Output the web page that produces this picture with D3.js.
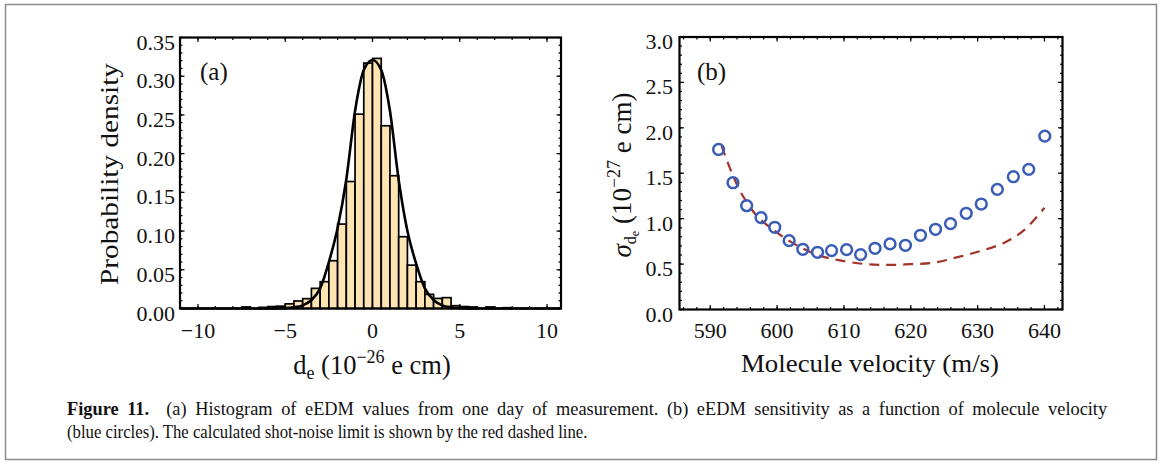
<!DOCTYPE html>
<html><head><meta charset="utf-8">
<script src="https://cdn.jsdelivr.net/npm/d3@7"></script>
<style>
body{margin:0;background:#fff;}
svg{display:block;}
text{font-family:"Liberation Serif","Times New Roman",serif;fill:#111;}
</style></head><body>
<svg id="fig" width="1163" height="468"></svg>
<script>
// ---------- Panel (a): histogram of eEDM values ----------
const binStarts = [-7.5,-6.5,-6,-5.5,-5,-4.5,-4,-3.5,-3,-2.5,-2,-1.5,-1,-0.5,0,0.5,1,1.5,2,2.5,3,3.5,4,4.5,5,5.5,6.5,7.5];
const binDensity = [0.002,0.0015,0.0025,0.003,0.006,0.0097,0.0127,0.026,0.0346,0.0617,0.109,0.164,0.251,0.317,0.323,0.236,0.1715,0.0927,0.056,0.0346,0.0183,0.013,0.014,0.0036,0.0025,0.002,0.002,0.001];
const binWidth = 0.5;
const fitX = [-11,-6,-5,-4.5,-4,-3.5,-3,-2.5,-2,-1.5,-1,-0.5,0,0.5,1,1.5,2,2.5,3,3.5,4,4.5,5,6,10.8];
const fitY = [0,0,0.0005,0.0015,0.004,0.011,0.026,0.06,0.104,0.167,0.255,0.308,0.321,0.308,0.255,0.166,0.1,0.058,0.026,0.011,0.004,0.0015,0.0005,0,0];
const aXTicks = [-10,-5,0,5,10];
const aYTicks = [0,0.05,0.10,0.15,0.20,0.25,0.30,0.35];

// ---------- Panel (b): sensitivity vs velocity ----------
const velocity = [591.25,593.4,595.45,597.6,599.65,601.8,603.85,606.05,608.15,610.4,612.5,614.65,616.9,619.2,621.45,623.7,625.95,628.3,630.55,632.95,635.35,637.65,640.05];
const sigma = [1.762,1.396,1.143,1.011,0.905,0.758,0.663,0.630,0.648,0.659,0.604,0.674,0.722,0.707,0.817,0.883,0.945,1.059,1.161,1.323,1.462,1.543,1.909];
const limitV = [591.7,593.2,594.8,597.1,599.5,602,606,609,613,616.5,620,623.5,627,630.5,634,637,640];
const limitSigma = [1.80,1.51,1.26,1.02,0.876,0.747,0.601,0.546,0.502,0.491,0.499,0.516,0.576,0.645,0.736,0.876,1.12];
const bXTicks = [590,600,610,620,630,640];
const bYTicks = [0,0.5,1.0,1.5,2.0,2.5,3.0];

const svg = d3.select("#fig");
svg.append("rect").attr("x",5.5).attr("y",4.5).attr("width",1151).attr("height",455)
  .attr("fill","#fff").attr("stroke","#8a8a8a").attr("stroke-width",1.5);

function frameTicks(g, x, y, xMajor, xMinor, yMajor, yMinor){
  const [x0,x1] = x.range(), [y0,y1] = y.range();
  const maj = 4.5, mn = 2.5;
  const tg = g.append("g").attr("stroke","#000").attr("stroke-width",1.2);
  xMinor.forEach(v=>{const p=x(v); tg.append("line").attr("x1",p).attr("x2",p).attr("y1",y0).attr("y2",y0-mn);
                                     tg.append("line").attr("x1",p).attr("x2",p).attr("y1",y1).attr("y2",y1+mn);});
  xMajor.forEach(v=>{const p=x(v); tg.append("line").attr("x1",p).attr("x2",p).attr("y1",y0).attr("y2",y0-maj);
                                     tg.append("line").attr("x1",p).attr("x2",p).attr("y1",y1).attr("y2",y1+maj);});
  yMinor.forEach(v=>{const p=y(v); tg.append("line").attr("y1",p).attr("y2",p).attr("x1",x0).attr("x2",x0+mn);
                                     tg.append("line").attr("y1",p).attr("y2",p).attr("x1",x1).attr("x2",x1-mn);});
  yMajor.forEach(v=>{const p=y(v); tg.append("line").attr("y1",p).attr("y2",p).attr("x1",x0).attr("x2",x0+maj);
                                     tg.append("line").attr("y1",p).attr("y2",p).attr("x1",x1).attr("x2",x1-maj);});
  g.append("rect").attr("x",x0).attr("y",y1).attr("width",x1-x0).attr("height",y0-y1)
    .attr("fill","none").attr("stroke","#000").attr("stroke-width",2.2);
}

// ----- Panel (a)
const xa = d3.scaleLinear().domain([-11.03,10.8]).range([180,561]);
const ya = d3.scaleLinear().domain([0,0.35]).range([308.5,37.5]);
const ga = svg.append("g");
ga.selectAll("rect.bar").data(binStarts).join("rect").attr("class","bar")
  .attr("x",d=>xa(d)).attr("width",d=>xa(d+binWidth)-xa(d))
  .attr("y",(d,i)=>ya(binDensity[i])).attr("height",(d,i)=>ya(0)-ya(binDensity[i]))
  .attr("fill","#fee3b3").attr("stroke","#000").attr("stroke-width",1.7);
ga.append("path").datum(fitX.map((v,i)=>[v,fitY[i]]))
  .attr("d",d3.line().x(d=>xa(d[0])).y(d=>ya(d[1])).curve(d3.curveMonotoneX))
  .attr("fill","none").attr("stroke","#000").attr("stroke-width",2.6);
frameTicks(ga, xa, ya, aXTicks, d3.range(-11,11,1), aYTicks, d3.range(0,0.351,0.01));
ga.selectAll("text.xt").data(aXTicks).join("text").attr("class","xt")
  .attr("x",d=>xa(d)).attr("y",338).attr("text-anchor","middle").attr("font-size",22)
  .text(d=>d<0?"\u2212"+Math.abs(d):d);
ga.selectAll("text.yt").data(aYTicks).join("text").attr("class","yt")
  .attr("x",175).attr("y",d=>ya(d)+12).attr("text-anchor","end").attr("font-size",22)
  .text(d=>d3.format(".2f")(d));
ga.append("text").attr("x",200).attr("y",80).attr("font-size",25).text("(a)");
ga.append("text").attr("transform","translate(118,174) rotate(-90)").attr("text-anchor","middle")
  .attr("font-size",25).attr("textLength",222).attr("lengthAdjust","spacingAndGlyphs").text("Probability density");
const xla = ga.append("text").attr("x",372).attr("y",374).attr("text-anchor","middle").attr("font-size",26.5);
xla.append("tspan").text("d");
xla.append("tspan").attr("font-size",18).attr("dy",5).text("e");
xla.append("tspan").attr("dy",-5).text(" (10");
xla.append("tspan").attr("font-size",18).attr("dy",-11).text("\u221226");
xla.append("tspan").attr("dy",11).text(" e cm)");

// ----- Panel (b)
const xb = d3.scaleLinear().domain([585.4,642.7]).range([679.5,1062.5]);
const yb = d3.scaleLinear().domain([0,3]).range([309.5,37]);
const gb = svg.append("g");
frameTicks(gb, xb, yb, bXTicks, d3.range(586,643,2), bYTicks, d3.range(0,3.01,0.1));
gb.append("path").datum(limitV.map((v,i)=>[v,limitSigma[i]]))
  .attr("d",d3.line().x(d=>xb(d[0])).y(d=>yb(d[1])).curve(d3.curveCatmullRom))
  .attr("fill","none").attr("stroke","#a3322a").attr("stroke-width",2.2).attr("stroke-dasharray","10,7");
gb.selectAll("circle").data(velocity).join("circle")
  .attr("cx",d=>xb(d)).attr("cy",(d,i)=>yb(sigma[i])).attr("r",5.4)
  .attr("fill","none").attr("stroke","#3a5db5").attr("stroke-width",2.5);
gb.selectAll("text.xt").data(bXTicks).join("text").attr("class","xt")
  .attr("x",d=>xb(d)).attr("y",338).attr("text-anchor","middle").attr("font-size",22).text(d=>d);
gb.selectAll("text.yt").data(bYTicks).join("text").attr("class","yt")
  .attr("x",673).attr("y",d=>yb(d)+12).attr("text-anchor","end").attr("font-size",22)
  .text(d=>d3.format(".1f")(d));
gb.append("text").attr("x",697).attr("y",80).attr("font-size",25).text("(b)");
gb.append("text").attr("x",870).attr("y",372).attr("text-anchor","middle").attr("font-size",25)
  .attr("textLength",258).attr("lengthAdjust","spacingAndGlyphs").text("Molecule velocity (m/s)");
const yl = gb.append("text").attr("transform","translate(631,175) rotate(-90)").attr("text-anchor","middle").attr("font-size",27);
yl.append("tspan").attr("font-style","italic").text("\u03c3");
yl.append("tspan").attr("font-size",16).attr("dy",5).text("d");
yl.append("tspan").attr("font-size",12).attr("dy",3).text("e");
yl.append("tspan").attr("dy",-8).text(" (10");
yl.append("tspan").attr("font-size",18).attr("dy",-11).text("\u221227");
yl.append("tspan").attr("dy",11).text(" e cm)");

// ----- Caption (condensed face; first line justified)
const capLine1Bold = "Figure 11.";
const capLine1 = "  (a) Histogram of eEDM values from one day of measurement. (b) eEDM sensitivity as a function of molecule velocity";
const capLine2 = "(blue circles). The calculated shot-noise limit is shown by the red dashed line.";
const g1 = svg.append("g"), g2 = svg.append("g");
const c1 = g1.append("text").attr("x",0).attr("y",415).attr("font-size",18).attr("xml:space","preserve");
c1.append("tspan").attr("font-weight","bold").text(capLine1Bold);
c1.append("tspan").attr("xml:space","preserve").text(capLine1);
const c2 = g2.append("text").attr("x",0).attr("y",438).attr("font-size",18).text(capLine2);
const w1 = c1.node().getComputedTextLength();
const w2 = c2.node().getComputedTextLength();
const r2 = 521 / w2, r1full = 1041 / w1;
const r1 = (r1full + r2) / 2;
g2.attr("transform",`translate(67,0) scale(${r2},1)`);
g1.attr("transform",`translate(67,0) scale(${r1},1)`);
const n1 = (capLine1Bold + capLine1).split(" ").length - 1;
c1.attr("word-spacing", Math.max(0,(1041 / r1 - w1) / n1));
</script>
</body></html>
